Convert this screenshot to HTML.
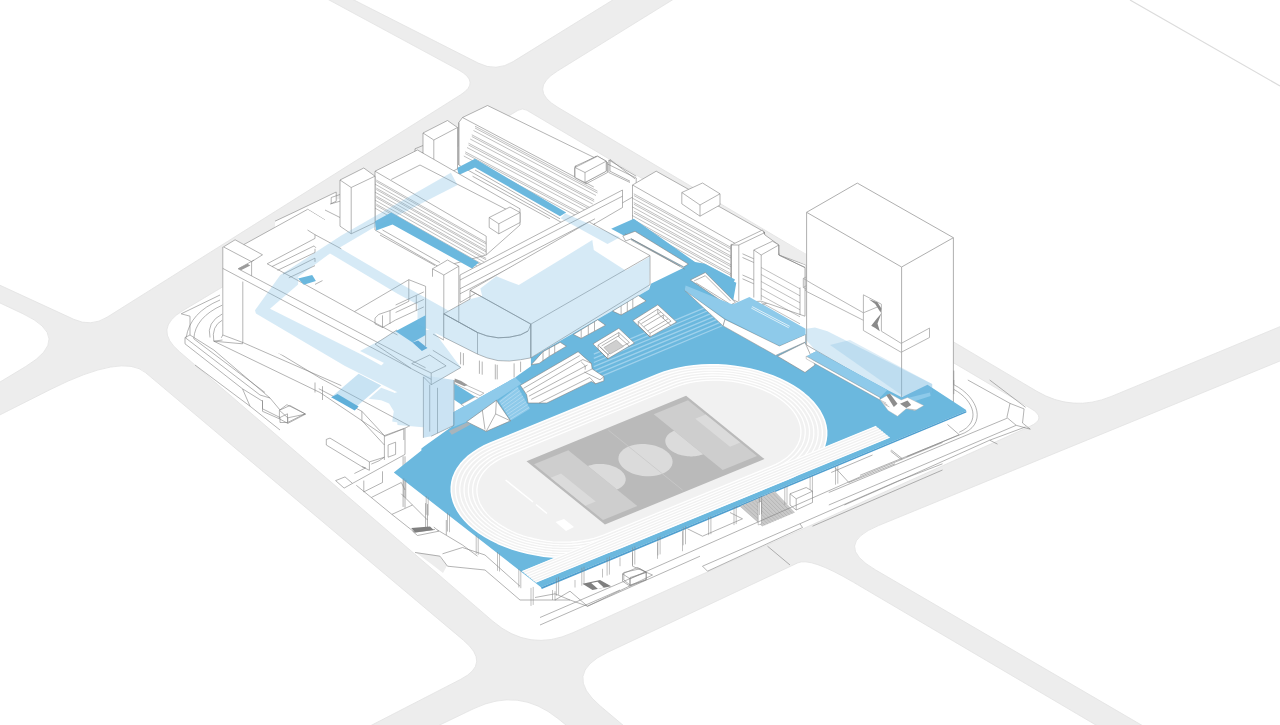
<!DOCTYPE html>
<html><head><meta charset="utf-8"><title>Axonometric</title>
<style>html,body{margin:0;padding:0;background:#fff;overflow:hidden}svg{display:block}</style></head>
<body><svg width="1280" height="725" viewBox="0 0 1280 725">
<rect x="0" y="0" width="1280" height="725" fill="#ededed"/>
<path d="M-100.0 -231.7 L458.0 69.6 Q480.9 82.0 460.6 94.8 L107.1 317.2 Q91.0 327.3 73.8 319.3 L-100.0 239.1 Z" fill="#fff" stroke="#e2e2e2" stroke-width="0.8"/>
<path d="M-100.0 256.0 L23.0 313.8 Q73.7 337.6 25.7 366.5 L-100.0 442.3 Z" fill="#fff" stroke="#e2e2e2" stroke-width="0.8"/>
<path d="M-100.0 465.2 L51.0 389.2 Q122.5 353.3 145.5 372.6 L463.6 640.4 Q491.1 663.6 460.9 679.2 L300.0 762.0 L-100.0 800.0 Z" fill="#fff" stroke="#e2e2e2" stroke-width="0.8"/>
<path d="M300.0 -27.4 L478.3 63.1 Q496.1 72.1 513.1 61.6 L700.0 -54.0 Z" fill="#fff" stroke="#e2e2e2" stroke-width="0.8"/>
<path d="M557.8 107.3 Q527.7 89.4 557.5 71.0 L800.0 -79.0 L1400.0 -79.0 L1400.0 277.0 L1111.4 396.4 Q1072.6 412.5 1036.5 391.1 Z" fill="#fff" stroke="#e2e2e2" stroke-width="0.8"/>
<path d="M875.4 569.8 Q832.2 544.6 878.5 525.6 L1400.0 311.8 L1400.0 800.0 L1270.0 800.0 Z" fill="#fff" stroke="#e2e2e2" stroke-width="0.8"/>
<path d="M600.3 706.0 Q562.1 673.8 607.3 652.5 L797.7 562.9 Q810.4 556.9 853.5 582.3 L1230.0 804.0 L700.0 790.0 Z" fill="#fff" stroke="#e2e2e2" stroke-width="0.8"/>
<path d="M473.9 708.6 Q519.0 687.0 557.9 718.5 L640.0 785.0 L320.0 782.5 Z" fill="#fff" stroke="#e2e2e2" stroke-width="0.8"/>
<path d="M179.3 351.5 Q152.8 328.7 182.8 310.7 L518.1 110.3 Q522.4 107.7 526.7 110.2 L1030.8 408.5 Q1047.6 418.4 1029.8 426.4 L572.9 632.7 Q529.2 652.5 492.8 621.2 Z" fill="#fff" stroke="#e2e2e2" stroke-width="0.8"/>
<path d="M1130 0 L1280 86" stroke="#dcdcdc" stroke-width="1.2" fill="none"/>
<g id="ground">
<path d="M415 552 L438.8 555.5 L447 565.8 L443 573 L430 563 Z" fill="#ededed"/>
<path d="M213.8 341.2 L320 392.5 L385 436.2 L403.8 428.8 L403.8 440 M222.5 325 L242.5 331.2 L320 378 L410 426.2 M242.5 331.2 L242.5 343.8 L213.8 341.2 L222.5 340" fill="none" stroke="#828282" stroke-width="0.6" stroke-linejoin="round"/>
<path d="M220.0 300.0 Q190.0 312.5 186.2 337.5 M222.5 305.0 Q195.0 317.5 193.8 338.8 M222.5 313.8 Q206.2 322.5 210.0 337.5 M222.5 320.0 Q211.2 326.2 213.8 341.2" fill="none" stroke="#828282" stroke-width="0.6"/>
<path d="M181.2 313.8 L190 316.2 L190 335 L185 337.5 M181.2 313.8 L220 295 M185 337.5 L185 343.8 L242.5 388.8 L262.5 401.2 L262.5 408.8 L280 417.5 L280 422.5 L287.5 422.5 L305 413.8 L290 405.5 L280 410 L270 398 L260 395 L185 337.5 M190 335 L213.8 350 L270 398 M193.8 338.8 L265 392.5 M280 417.5 L287.5 413.8 L287.5 422.5 M242.5 388.8 L250 406.2 L195 365 M250 406.2 L280 430" fill="none" stroke="#828282" stroke-width="0.6" stroke-linejoin="round"/>
<path d="M315 382.5 L315 392.5 M322.5 386.2 L322.5 400" fill="none" stroke="#828282" stroke-width="0.6" stroke-linejoin="round"/>
<path d="M326.3 439.4 L330 438.1 L369.4 461.9 L369.4 470.3 L361.9 466.6 L326.3 445 L326.3 439.4 M369.4 461.9 L384.4 457.2 L378.8 460.9 L371.3 464.1 M354.4 473.5 L365.6 467.9 L361.9 466.6 M262.5 400 L262.5 411.3 L279.4 418.8 L279.4 410.3 L286.9 404.7 L305.6 414.1 L287.8 423.4 L279.4 418.8 M287.8 423.4 L287.8 417.8 L279.4 410.3 M287.8 417.8 L305.6 414.1 M335.6 480.6 L345 476.9 L352.5 483.4 L344.1 488.1 L335.6 480.6 M352.5 483.4 L405 454.4 L405 428.1 L384.4 435.6 L384.4 460 M384.4 435.6 L361.9 411.3 L361.9 420.6 L384.4 445 M361.9 411.3 L318.8 388.7 M405 428.1 L408.8 426.3 M363.8 480.6 L363.8 491.9 L382.5 482.5 L382.5 471.3 M356.3 485.3 L371.3 497.5 L401.3 482.5 L405 490 M371.3 497.5 L391.9 514.4 L412.5 505 L401.3 493.8 M391.9 514.4 L414.4 532.2 L435 529.4 M403.1 456.3 L403.1 506.9 M405 456.3 L405 507.8 M425.6 503.1 L425.6 529.4 M427.5 504.1 L427.5 529.4 M388.1 445 L395.6 442.2 L395.6 454.4 L388.1 457.2 L388.1 445 M412.5 505 L427.5 520 M446.3 520 L446.3 535" fill="none" stroke="#828282" stroke-width="0.6" stroke-linejoin="round"/>
</g>
<g id="back">
<path d="M462.5 117.5 L487.5 105.5 L636.2 178 L636.2 195 L575 230 L458.8 165 L458.8 122.5 Z" fill="#fff" stroke="#828282" stroke-width="0.6" stroke-linejoin="round"/>
<path d="M475 126.2 L597.5 191.2 M475 128 L597.5 193 M473.5 130.5 L596 195.5 M471.8 134.8 L594.2 199.8 M471.8 136.5 L594.2 201.5 M470.2 139 L592.8 204 M468.5 143.2 L591 208.2 M468.5 145 L591 210 M467 147.5 L589.5 212.5 M465.2 151.8 L587.8 216.8 M465.2 153.5 L587.8 218.5 M463.8 156 L586.2 221" fill="none" stroke="#828282" stroke-width="0.5" stroke-linejoin="round"/>
<path d="M462.5 117.5 L593.8 187 M458.8 122.5 L458.8 165" fill="none" stroke="#828282" stroke-width="0.6" stroke-linejoin="round"/>
<path d="M457 168 L475 158.8 L566.2 212.5 L560 216.2 L475 167.5 L458.8 175 Z" fill="#6bb8de"/>
<path d="M475 170 L560 218.8 M472.5 176.2 L550 218.8" fill="none" stroke="#828282" stroke-width="0.6" stroke-linejoin="round"/>
<path d="M575 167.5 L596.2 156.2 L607.5 162.5 L607.5 172.5 L586.2 183.8 L575 177.5 Z" fill="#fff" stroke="#828282" stroke-width="0.6" stroke-linejoin="round"/>
<path d="M575 167.5 L586.2 173.8 L607.5 162.5 M586.2 173.8 L586.2 183.8" fill="none" stroke="#828282" stroke-width="0.6" stroke-linejoin="round"/>
<path d="M608.8 160 L608.8 172.5 L630 182.5 M608.8 160 L636.2 176.2" fill="none" stroke="#828282" stroke-width="0.6" stroke-linejoin="round"/>
<path d="M423 133 L447.5 120.5 L457.5 127.5 L457.5 168.8 L433.8 181.2 L423 174.2 Z" fill="#fff" stroke="#828282" stroke-width="0.6" stroke-linejoin="round"/>
<path d="M423 133 L433.8 140 L457.5 127.5 M433.8 140 L433.8 181.2" fill="none" stroke="#828282" stroke-width="0.6" stroke-linejoin="round"/>
<path d="M415 148.8 L423 145.5 M415 148.8 L415 155 L423 152.5" fill="none" stroke="#828282" stroke-width="0.6" stroke-linejoin="round"/>
<path d="M375 171.2 L417.5 150 L520 208.8 L520 225 L486.2 255 L440 267.5 L375 230 Z" fill="#fff" stroke="#828282" stroke-width="0.6" stroke-linejoin="round"/>
<path d="M375 171.2 L486.2 236.2 L486.2 255 M391.2 179.5 L420 165 L507.5 210 L490 218.8" fill="none" stroke="#828282" stroke-width="0.6" stroke-linejoin="round"/>
<path d="M376.2 180 L486.2 242.5 M376.2 181.5 L486.2 244 M374.8 184 L484.8 246.5 M376.2 188 L486.2 250.5 M376.2 189.5 L486.2 252 M374.8 192 L484.8 254.5 M376.2 196 L486.2 258.5 M376.2 197.5 L486.2 260 M374.8 200 L484.8 262.5 M376.2 204 L486.2 266.5 M376.2 205.5 L486.2 268 M374.8 208 L484.8 270.5" fill="none" stroke="#828282" stroke-width="0.5" stroke-linejoin="round"/>
<path d="M375 221.2 L391.2 212.5 L478.8 262.5 L472 268.5 L392.5 224.5 L376.2 230.5 Z" fill="#6bb8de"/>
<path d="M382.5 230 L440 262.5 M380 235 L435 265.5" fill="none" stroke="#828282" stroke-width="0.6" stroke-linejoin="round"/>
<path d="M489.2 217.5 L510 207 L520 212.5 L520 222.5 L498.8 233.8 L489.2 227.5 Z" fill="#fff" stroke="#828282" stroke-width="0.6" stroke-linejoin="round"/>
<path d="M489.2 217.5 L498.8 223.8 L520 212.5 M498.8 223.8 L498.8 233.8" fill="none" stroke="#828282" stroke-width="0.6" stroke-linejoin="round"/>
<path d="M275 221.2 L295 211.8 L336.2 192 L336.2 200 L341.2 198 L341.2 233.8 L307.5 233.8 L275 233.8 Z" fill="#fff"/>
<path d="M275 221.2 L295 211.8 L336.2 192 L336.2 201.2 L330 204.2 M307.5 209.2 L325 220 M325 210 L340 217.5" fill="none" stroke="#828282" stroke-width="0.6" stroke-linejoin="round"/>
<path d="M340 180 L363.8 168 L375 176.2 L375 222.5 L351.2 233.8 L340 226.2 Z" fill="#fff" stroke="#828282" stroke-width="0.6" stroke-linejoin="round"/>
<path d="M340 180 L351.2 187.5 L375 176.2 M351.2 187.5 L351.2 233.8" fill="none" stroke="#828282" stroke-width="0.6" stroke-linejoin="round"/>
<path d="M331.2 197.5 L340 194.5 M331.2 197.5 L331.2 203.8 L340 201.2" fill="none" stroke="#828282" stroke-width="0.6" stroke-linejoin="round"/>
<path d="M575 166.2 L597.5 156.2 L606.2 161.2 L606.2 171.2 L585 182.5 L575 176.2 Z" fill="#fff" stroke="#828282" stroke-width="0.6" stroke-linejoin="round"/>
<path d="M575 166.2 L585 172.5 L606.2 161.2 M585 172.5 L585 182.5" fill="none" stroke="#828282" stroke-width="0.6" stroke-linejoin="round"/>
<path d="M460 275 L622.5 190 L622.5 207.5 L460 302.5 Z" fill="#fff" stroke="#828282" stroke-width="0.6" stroke-linejoin="round"/>
<path d="M460 280 L622.5 196.2 M460 288.8 L595 218.8 M460 293.8 L595 223.8" fill="none" stroke="#828282" stroke-width="0.6" stroke-linejoin="round"/>
<path d="M432.5 268.8 L447.5 260 L458.8 266.2 L458.8 331.2 L443.8 340 L432.5 333.8 Z" fill="#fff" stroke="#828282" stroke-width="0.6" stroke-linejoin="round"/>
<path d="M432.5 268.8 L443.8 275 L458.8 266.2 M443.8 275 L443.8 340" fill="none" stroke="#828282" stroke-width="0.6" stroke-linejoin="round"/>
<path d="M632.5 185 L656.2 171.2 L764.5 232 L764.5 240 L778.8 245 L778.8 255 L806.2 265 L806.2 290 L761.2 305 L738.8 302.5 L731.2 296.2 L632.5 235 Z" fill="#fff" stroke="#828282" stroke-width="0.6" stroke-linejoin="round"/>
<path d="M633.8 193.8 L731.2 247.5 M633.8 195.5 L731.2 249.2 M632.2 198 L729.8 251.8 M633.8 202.5 L731.2 256.2 M633.8 204.2 L731.2 258 M632.2 206.8 L729.8 260.5 M633.8 211.2 L731.2 265 M633.8 213 L731.2 266.8 M632.2 215.5 L729.8 269.2 M633.8 220 L731.2 273.8 M633.8 221.8 L731.2 275.5 M632.2 224.2 L729.8 278 M633.8 228.8 L731.2 282.5 M633.8 230.5 L731.2 284.2 M632.2 233 L729.8 286.8" fill="none" stroke="#828282" stroke-width="0.5" stroke-linejoin="round"/>
<path d="M632.5 185 L738.8 245.5 L764.5 232 M738.8 245.5 L738.8 302.5 M731.2 243.8 L731.2 296.2 M764.5 232 L764.5 240" fill="none" stroke="#828282" stroke-width="0.6" stroke-linejoin="round"/>
<path d="M681.8 192.5 L702.5 183 L720 193.8 L720 205 L700 216.2 L681.8 203.8 Z" fill="#fff" stroke="#828282" stroke-width="0.6" stroke-linejoin="round"/>
<path d="M681.8 192.5 L700 205 L720 193.8 M700 205 L700 216.2" fill="none" stroke="#828282" stroke-width="0.6" stroke-linejoin="round"/>
<path d="M763.8 231.2 L806.2 253.8 L806.2 265 L778.8 252.5 L778.8 245 L772.5 241.2 Z" fill="#ededed"/>
<path d="M731.2 245 L762.5 230 L765 235 L778.8 245 L778.8 255 L805 267.5 L805 316.2 L761.2 301.2 L738.8 302.5 L731.2 298.8 Z" fill="#fff" stroke="#828282" stroke-width="0.6" stroke-linejoin="round"/>
<path d="M731.2 245 L738.8 245 L738.8 301.2 M731.2 245 L731.2 298.8 M738.8 245 L765 232.5" fill="none" stroke="#828282" stroke-width="0.6" stroke-linejoin="round"/>
<path d="M753.8 250 L772.5 241.2 L778.8 245 L761.2 255 Z" fill="#fff" stroke="#828282" stroke-width="0.6" stroke-linejoin="round"/>
<path d="M753.8 250 L753.8 297.5 M761.2 255 L761.2 300 M778.8 245 L778.8 255 M742.5 253.8 L753.8 258.8 M742.5 257.5 L753.8 262.5 M742.5 275 L753.8 280 M742.5 278.8 L753.8 283.8 M800 287.5 L800 315 M778.8 255 L805 267.5" fill="none" stroke="#828282" stroke-width="0.6" stroke-linejoin="round"/>
<path d="M761.2 267.5 L800 288.8 M761.2 274.5 L800 295.8 M761.2 281.5 L800 302.8 M761.2 288.5 L800 309.8 M761.2 295.5 L800 316.8 M761.2 302.5 L800 323.8" fill="none" stroke="#828282" stroke-width="0.5" stroke-linejoin="round"/>
<path d="M575 167.5 L597.5 156.2 L606.2 161.2 L606.2 171.2 L585 182.5 L575 177.5 Z" fill="#fff" stroke="#828282" stroke-width="0.6" stroke-linejoin="round"/>
<path d="M575 167.5 L585 172.5 L606.2 161.2 M585 172.5 L585 182.5" fill="none" stroke="#828282" stroke-width="0.6" stroke-linejoin="round"/>
<path d="M610 159.5 L610 171.2 L630 181.2 M610 159.5 L635 178.8" fill="none" stroke="#828282" stroke-width="0.6" stroke-linejoin="round"/>
<path d="M611.2 228.8 L633.8 218.8 L695 262 L705 263.8 L735 279.5 L732.5 284.5 L696.2 267 L688.8 270.5 Z" fill="#6bb8de"/>
<path d="M625 233.8 L642.5 243.8 L685 266.2 M631.2 240 L680 266.2" fill="none" stroke="#828282" stroke-width="0.6" stroke-linejoin="round"/>
<path d="M222.8 246.9 L235.1 239.8 L243.8 244.6 L307.5 209.4 L341.3 230 L433.1 276.9 L433.1 350 L399.4 365 L341.3 372.5 L242.8 342.5 L222.2 335 Z" fill="#fff"/>
<path d="M223.5 246.9 L235.1 239.8 L262.5 254.8 L251.6 261.7 Z" fill="#fff" stroke="#828282" stroke-width="0.6" stroke-linejoin="round"/>
<path d="M222.8 246.9 L222.8 335 L242.8 342.5 L242.8 281.6 M251.6 261.7 L251.6 275.9 M222.8 268.4 L431.3 379.3 M238.1 268.8 L254.1 260 M238.1 268.8 L425.6 367.8 M222.8 335 L221.3 337.8 M242.8 342.5 L341.3 385.6" fill="none" stroke="#828282" stroke-width="0.6" stroke-linejoin="round"/>
<path d="M238.1 268.4 L247.5 263.8 L250.3 265.6 L240.9 270.3 Z" fill="#9b9b9b"/>
<path d="M243.8 244.6 L307.5 209.4 M267.2 263.8 L315 238.4 L315 234.7 L307.5 230 M271.9 266.6 L314.1 245.9 L315.9 247.8 M277.5 270.3 L315 252.5 L315 248.8 M283.1 274.1 L315 258.1 L315 261.9 M288.8 277.8 L315 265.6 M267.2 263.8 L298.1 280.6 M315 234.7 L341.3 248.8" fill="none" stroke="#828282" stroke-width="0.6" stroke-linejoin="round"/>
<path d="M298.1 280.6 L354.4 311.6 L408.8 279.7 L425.6 286.3 M354.4 311.6 L397.5 335 M315 284.4 L322.5 280.6 M408.8 279.7 L408.8 291.9 M425.6 286.3 L425.6 346.3" fill="none" stroke="#828282" stroke-width="0.6" stroke-linejoin="round"/>
<path d="M375 318.1 L378.8 314.4 L390 310.6 L408.8 301.3 L408.8 291.9 M375 318.1 L375 323.8 L382.5 327.5 L395.6 320 M382.5 315.3 L382.5 327.5 M390 310.6 L390 323.8 M395.6 305 L423.8 291.9 M395.6 312.5 L423.8 299.4 M395.6 320 L423.8 306.9 M416.3 295.6 L416.3 310.6" fill="none" stroke="#828282" stroke-width="0.6" stroke-linejoin="round"/>
<path d="M395.6 331.3 L425.6 315.3 L425.6 335 L412.5 342.5 Z" fill="#6bb8de"/>
<path d="M412.5 342.5 L418.1 340.6 L427.5 348.1 L421.9 350.9 Z" fill="#58a6d4"/>
<path d="M806.6 212.3 L857.3 183.1 L953.4 237.7 L953.4 402 L901.6 400 L806.6 345 Z" fill="#fff" stroke="#a6a6a6" stroke-width="0.9" stroke-linejoin="round"/>
<path d="M806.6 212.3 L901.6 267 L953.4 237.7" fill="none" stroke="#a6a6a6" stroke-width="0.9" stroke-linejoin="round"/>
<path d="M901.6 267 L901.6 400" fill="none" stroke="#a6a6a6" stroke-width="0.9" stroke-linejoin="round"/>
<path d="M803.3 278.4 L803.3 287.5 L806.4 289.1 M803.3 278.4 L806.4 276.9 M803.3 278.4 L811.9 283.6 L863.4 312.8 M803.3 287.5 L806.4 285.6 M806.4 291.4 L863.4 320.3 M863.4 294.8 L863.4 330.5 M863.4 294.8 L881.4 304.2 L881.4 331.2 M863.4 312.8 L878.3 306.6 M881.4 331.2 L901.2 343.4 L929.5 328.1 L929.5 337.5 L901.2 352.3 L863.4 330.5" fill="none" stroke="#a6a6a6" stroke-width="0.8" stroke-linejoin="round"/>
<path d="M868.9 299.2 L877.5 302.3 L881.4 308.6 L880.6 312.5 L875.2 303.9 Z" fill="#8a8a8a"/>
<path d="M881.4 313.3 L877.5 323.4 L879.8 331.2 L875.2 328.1 L871.2 325.8 L876.7 318.8 Z" fill="#8a8a8a"/>
</g>
<g id="plat">
<path d="M393.8 472.5 L421.4 450.6 L421.4 448.6 L424 446.4 L453.4 425.6 L453.4 412.3 L515.3 377.5 L530.9 357.8 L649.1 289.4 L650.9 283.8 L689.4 265 L692.2 263.1 L736.3 282.8 L732.5 304.4 L805.6 334.4 L806.2 356.2 L816.2 351.2 L887.5 390 L901.7 397.2 L927.5 384.7 L965.8 409.7 L966.3 411 L541 587.3 Z" fill="#6bb8de"/>
<path d="M541 587.3 L966.3 411 L966.3 412.6 L541.8 589 Z" fill="#4f9fcf"/>
</g>
<g id="onplat">
<path d="M593.8 354.1 L703.9 308.1" stroke="#9fd1ec" stroke-width="1.3" fill="none"/>
<path d="M593.8 358.3 L707.0 311.0" stroke="#9fd1ec" stroke-width="1.3" fill="none"/>
<path d="M593.8 362.5 L710.1 313.9" stroke="#9fd1ec" stroke-width="1.3" fill="none"/>
<path d="M593.8 366.7 L713.3 316.8" stroke="#9fd1ec" stroke-width="1.3" fill="none"/>
<path d="M593.8 370.9 L716.4 319.7" stroke="#9fd1ec" stroke-width="1.3" fill="none"/>
<path d="M593.8 375.2 L719.5 322.6" stroke="#9fd1ec" stroke-width="1.3" fill="none"/>
<path d="M593.8 379.4 L722.7 325.5" stroke="#9fd1ec" stroke-width="1.3" fill="none"/>
<path d="M531.2 364.7 L543 351.7 L560.2 342.3 L566.4 346.2 L549.2 356.4 L539.1 363.4 Z" fill="#fff" stroke="#828282" stroke-width="0.6" stroke-linejoin="round"/>
<path d="M543 351.7 L543 361.1 M549.2 348.1 L549.2 356.4 M554.7 345 L554.7 353.3" fill="none" stroke="#828282" stroke-width="0.6" stroke-linejoin="round"/>
<path d="M573.4 334.5 L597.7 319.7 L605.5 325.2 L581.2 338.4 Z" fill="#fff" stroke="#828282" stroke-width="0.6" stroke-linejoin="round"/>
<path d="M581.2 329.8 L581.2 338.4 M588.3 325.6 L588.3 334.5 M594.5 321.7 L594.5 330.9" fill="none" stroke="#828282" stroke-width="0.6" stroke-linejoin="round"/>
<path d="M612.5 311.1 L638.3 295.5 L646.1 300.9 L621.1 315 Z" fill="#fff" stroke="#828282" stroke-width="0.6" stroke-linejoin="round"/>
<path d="M621.1 306.1 L621.1 315 M627.3 302.2 L627.3 311.4 M632.8 298.9 L632.8 308.1" fill="none" stroke="#828282" stroke-width="0.6" stroke-linejoin="round"/>
<path d="M593 343.9 L618.8 328.3 L634.4 343.1 L607.8 358.8 Z" fill="#fff" stroke="#828282" stroke-width="0.6" stroke-linejoin="round"/>
<path d="M598.1 345 L618.8 332.5 L629.4 342.5 L607.8 354.4 Z" fill="#fff" stroke="#828282" stroke-width="0.6" stroke-linejoin="round"/>
<path d="M603.9 347.5 L616.4 340 L623.4 346.6 L610.2 354.1 Z" fill="#cfcfcf" stroke="#828282" stroke-width="0.4" stroke-linejoin="round"/>
<path d="M598.1 345 L598.1 349.4 L607.8 358.8 M618.8 332.5 L618.8 336.9 L629.4 346.2 M607.8 354.4 L607.8 358.8 M600 347 L609.4 355.6 M601.6 345.9 L619.5 335.3" fill="none" stroke="#828282" stroke-width="0.6" stroke-linejoin="round"/>
<path d="M632.8 320.5 L657.8 304.8 L676.6 322 L650 336.9 Z" fill="#fff" stroke="#828282" stroke-width="0.6" stroke-linejoin="round"/>
<path d="M638.3 321.6 L657.8 309.1 L671.1 321.2 L650 333.3 Z" fill="#fff" stroke="#828282" stroke-width="0.6" stroke-linejoin="round"/>
<path d="M638.3 321.6 L638.3 325.6 L650 336.9 M657.8 309.1 L657.8 313.4 L671.1 325.6 M650 333.3 L650 336.9 M641.4 323.6 L660.9 311.9 M643.8 326.7 L663.3 315 L663.3 318.9 M647.7 330.9 L668 318.9" fill="none" stroke="#828282" stroke-width="0.6" stroke-linejoin="round"/>
<path d="M520.3 385.3 L578.1 351.7 L591.4 363.4 L592.2 368.9 L603.9 376.7 L603.9 380.9 L595.6 383.8 L591.4 381.4 L546.9 403 L528.1 403 L526.6 394.7 Z" fill="#fff" stroke="#828282" stroke-width="0.6" stroke-linejoin="round"/>
<path d="M523.4 388.4 L579.7 355.6 M526.6 392.3 L582.8 359.5 L591.4 363.4 M528.9 396.2 L587.5 365 M531.2 399.4 L592.2 368.9 M539.1 403 L589.8 377.5 L595.6 383.8 M584.4 372 L600 379.8 L603.9 376.7 M581.2 361.9 L585.2 365.8 L585.2 369.7" fill="none" stroke="#828282" stroke-width="0.6" stroke-linejoin="round"/>
<path d="M443.8 337.2 L443.8 362.5 L462.5 371.9 L496.3 379.4 L515 377.5 L530.9 366.3 L530.9 357.8 Z" fill="#fff"/>
<path d="M460.6 352.2 L460.6 364.4 M463.4 353.1 L463.4 365.3 M479.4 360.6 L479.4 373.8 M482.2 361.6 L482.2 374.7 M495.3 364.4 L495.3 379.4 M497.2 364.8 L497.2 379.4 M514.1 363.4 L514.1 377.5 M520.6 361.6 L520.6 371.9" fill="none" stroke="#828282" stroke-width="0.6" stroke-linejoin="round"/>
<path d="M443.8 313.8 L477.5 332.5 L486.9 335.9 L498.1 337.8 L509.4 337.2 L520.6 334.8 L528.1 331 L530.9 324.1 L530.9 357.8 L530.9 357.8 L520.6 359.7 L509.4 361 L498.1 360.6 L486.9 357.8 L477.5 354.1 L443.8 337.2 Z" fill="#fff" stroke="#828282" stroke-width="0.6" stroke-linejoin="round"/>
<path d="M470 290.3 L589.1 221.9 L650 255.6 L650 284.7 L530.9 357.8 L530.9 324.1 Z" fill="#fff" stroke="#828282" stroke-width="0.6" stroke-linejoin="round"/>
<path d="M470 290.3 L530.9 324.1 L650 255.6 M530.9 324.1 L530.9 357.8 M443.8 313.8 L477.5 332.5 M477.5 332.5 L477.5 354.1" fill="none" stroke="#828282" stroke-width="0.6" stroke-linejoin="round"/>
<path d="M443.8 313.8 L477.5 332.5 L486.9 335.9 L498.1 337.8 L509.4 337.2 L520.6 334.8 L528.1 331" fill="none" stroke="#828282" stroke-width="0.6" stroke-linejoin="round"/>
<path d="M443.8 313.8 L470 299.1 M470 290.3 L470 299.1" fill="none" stroke="#828282" stroke-width="0.6" stroke-linejoin="round"/>
<path d="M454.2 383.4 L475.3 396.7 L461.2 404.5 L454.2 399.8 Z" fill="#6bb8de"/>
<path d="M455 380 L483.9 393.1 L480 395.6 L454.2 383.4 Z" fill="#fff" stroke="#828282" stroke-width="0.5" stroke-linejoin="round"/>
<path d="M461.2 404.5 L475.3 396.7 L480 399.1 L465.2 406.9 Z" fill="#fff" stroke="#828282" stroke-width="0.5" stroke-linejoin="round"/>
<path d="M454.7 378.4 L461.2 381.1 L467.5 385 L464.4 386.2 L454.7 381.9 Z" fill="#9a9a9a"/>
<path d="M453.4 412.3 L515.3 377.5 L521.4 383.4 L517.5 386.2 L496.4 400.3 L466.7 421.7 L453.4 426.9 Z" fill="#8ecaea"/>
<path d="M498.8 400.9 L517.5 386.6 L530 408.8 L510.9 420.6 Z" fill="#8ecaea"/>
<path d="M499.5 402.1 L518.2 387.9" stroke="#b5dcf1" stroke-width="0.8" fill="none"/>
<path d="M501.0 404.6 L519.8 390.7" stroke="#b5dcf1" stroke-width="0.8" fill="none"/>
<path d="M502.5 407.0 L521.4 393.4" stroke="#b5dcf1" stroke-width="0.8" fill="none"/>
<path d="M504.1 409.5 L522.9 396.2" stroke="#b5dcf1" stroke-width="0.8" fill="none"/>
<path d="M505.6 412.0 L524.5 399.0" stroke="#b5dcf1" stroke-width="0.8" fill="none"/>
<path d="M507.1 414.4 L526.1 401.8" stroke="#b5dcf1" stroke-width="0.8" fill="none"/>
<path d="M508.6 416.9 L527.6 404.5" stroke="#b5dcf1" stroke-width="0.8" fill="none"/>
<path d="M510.1 419.3 L529.2 407.3" stroke="#b5dcf1" stroke-width="0.8" fill="none"/>
<path d="M466.7 421.7 L496.4 400.3 L510.5 420.9 L486.2 431.4 Z" fill="#fff" stroke="#828282" stroke-width="0.6" stroke-linejoin="round"/>
<path d="M496.4 400.3 L495.6 413.9 L510.5 420.9 M495.6 413.9 L486.2 431.4 M482.3 410 L485 429.5" fill="none" stroke="#828282" stroke-width="0.6" stroke-linejoin="round"/>
<path d="M448.8 431.1 L467.5 422.2 L470.6 424.4 L451.9 434.7 Z" fill="#a8b4bb"/>
<path d="M690.3 280 L705.3 272.5 L735.3 302.5 L728.8 305.9 Z" fill="#fff" stroke="#828282" stroke-width="0.6" stroke-linejoin="round"/>
<path d="M694.1 280.9 L705.3 275.7 L730.6 301 M695.9 282.8 L728.8 303.4" fill="none" stroke="#828282" stroke-width="0.6" stroke-linejoin="round"/>
<path d="M622.8 235.9 L635 231.3 L688.4 264.1 L683.8 266.9 L631.3 238.8 L625.6 241 Z" fill="#fff" stroke="#828282" stroke-width="0.6" stroke-linejoin="round"/>
<path d="M631.3 238.8 L684.7 269.1" fill="none" stroke="#828282" stroke-width="0.6" stroke-linejoin="round"/>
<path d="M684.7 290.3 L723.1 325.9 L725 319.4 Z" fill="#fff" stroke="#828282" stroke-width="0.5" stroke-linejoin="round"/>
<path d="M725 319.4 L779.4 346 L805.6 334.4 L805.6 341.9 L775.6 355.4 L723.1 325.9 Z" fill="#fff" stroke="#828282" stroke-width="0.5" stroke-linejoin="round"/>
<path d="M685.6 285.6 L732.5 304.4 L749.4 296.9 L805.6 328.8 L805.6 334.4 L779.4 345.6 L725 318.4 L684.7 290.3 Z" fill="#8ecaea"/>
<path d="M751.3 308.1 L788.8 327.8 M752.2 306.6 L789.7 326.3" fill="none" stroke="#fff" stroke-width="0.7" stroke-linejoin="round"/>
<path d="M777.5 356.2 L805 342.5 L815 365 L805 372.5 Z" fill="#fff" stroke="#828282" stroke-width="0.6" stroke-linejoin="round"/>
<path d="M806.2 356.2 L816.2 351.2 L887.5 390 L880 397.5 Z" fill="#8ecaea"/>
<path d="M806.2 356.2 L880 397.5 L880 400 L806.2 358.8 Z" fill="#fff" stroke="#828282" stroke-width="0.4" stroke-linejoin="round"/>
<path d="M423.4 376.9 L423.4 437.8 M429.7 384.7 L429.7 431.6 M437.5 387.8 L437.5 433.1 M453.9 380 L453.9 425.3 M411.7 363.6 L429.7 355 L446.1 365.9 L431.2 373 L411.7 363.6 M423.4 376.9 L431.2 384.7 L460.9 367.5 L432.8 350.3 M431.2 384.7 L431.2 373 M396.9 330 L375 344.1 L410.9 368.3 M453.9 425.3 L431.2 436.2" fill="none" stroke="#828282" stroke-width="0.6" stroke-linejoin="round"/>
</g>
<g id="track">
<path d="M657.6 374.6 L664.2 372.1 L671.2 370 L678.4 368.2 L686 366.8 L693.8 365.8 L701.7 365.1 L709.8 364.8 L717.9 364.9 L726.1 365.4 L734.3 366.3 L742.3 367.5 L750.3 369.1 L758.1 371.1 L765.7 373.4 L773 376 L780 379 L786.6 382.2 L792.9 385.7 L798.7 389.5 L804 393.5 L808.9 397.7 L813.2 402.1 L816.9 406.7 L820.1 411.3 L822.6 416.1 L824.6 420.9 L825.9 425.8 L826.6 430.7 L826.6 435.5 L826 440.3 L824.8 445.1 L822.9 449.7 L820.4 454.1 L817.3 458.4 L813.6 462.5 L809.4 466.4 L804.6 470.1 L799.3 473.4 L793.6 476.5 L787.4 479.3 L620.3 547.8 L613.7 550.2 L606.7 552.4 L599.4 554.1 L591.9 555.5 L584.1 556.6 L576.2 557.2 L568.1 557.5 L560 557.4 L551.8 556.9 L543.6 556.1 L535.5 554.8 L527.6 553.2 L519.8 551.3 L512.2 549 L504.9 546.3 L497.9 543.4 L491.3 540.1 L485 536.6 L479.2 532.8 L473.9 528.8 L469 524.6 L464.7 520.2 L461 515.7 L457.8 511 L455.2 506.2 L453.3 501.4 L452 496.5 L451.3 491.6 L451.3 486.8 L451.9 482 L453.1 477.3 L455 472.7 L457.5 468.2 L460.6 463.9 L464.3 459.8 L468.5 455.9 L473.3 452.3 L478.6 448.9 L484.3 445.8 L490.5 443 Z" fill="#f1f1f1" stroke="#fff" stroke-width="1.6" stroke-linejoin="round"/>
<path d="M660.3 376.7 L666.6 374.3 L673.3 372.3 L680.2 370.6 L687.5 369.3 L694.9 368.3 L702.6 367.6 L710.3 367.4 L718.1 367.5 L726 367.9 L733.8 368.8 L741.5 370 L749.2 371.5 L756.6 373.4 L763.9 375.6 L770.9 378.1 L777.6 380.9 L784 384.1 L790 387.4 L795.5 391.1 L800.7 394.9 L805.3 398.9 L809.4 403.1 L813 407.5 L816.1 412 L818.5 416.6 L820.4 421.2 L821.7 425.9 L822.3 430.5 L822.3 435.2 L821.8 439.8 L820.6 444.3 L818.8 448.7 L816.4 453 L813.4 457.1 L809.9 461.1 L805.8 464.8 L801.2 468.3 L796.2 471.5 L790.6 474.5 L784.7 477.2 L617.6 545.6 L611.3 548 L604.6 550 L597.6 551.7 L590.4 553.1 L582.9 554.1 L575.3 554.7 L567.6 555 L559.8 554.9 L551.9 554.4 L544.1 553.6 L536.3 552.4 L528.7 550.8 L521.2 549 L514 546.8 L507 544.2 L500.3 541.4 L493.9 538.3 L487.9 534.9 L482.3 531.3 L477.2 527.4 L472.6 523.4 L468.4 519.2 L464.9 514.8 L461.8 510.3 L459.4 505.8 L457.5 501.1 L456.2 496.5 L455.6 491.8 L455.5 487.1 L456.1 482.5 L457.3 478 L459.1 473.6 L461.5 469.3 L464.5 465.2 L468 461.3 L472.1 457.5 L476.6 454 L481.7 450.8 L487.2 447.8 L493.2 445.2 Z" fill="none" stroke="#fff" stroke-width="1.3" stroke-linejoin="round"/>
<path d="M662.9 378.9 L669 376.6 L675.4 374.6 L682.1 373 L689 371.7 L696.1 370.8 L703.4 370.2 L710.8 369.9 L718.3 370 L725.8 370.5 L733.3 371.3 L740.7 372.4 L748 373.9 L755.2 375.7 L762.1 377.8 L768.8 380.2 L775.3 382.9 L781.3 385.9 L787.1 389.1 L792.4 392.6 L797.3 396.3 L801.8 400.1 L805.7 404.2 L809.1 408.3 L812.1 412.6 L814.4 417 L816.2 421.4 L817.4 425.9 L818 430.4 L818.1 434.8 L817.5 439.2 L816.4 443.6 L814.6 447.8 L812.4 451.9 L809.5 455.8 L806.1 459.6 L802.2 463.2 L797.9 466.5 L793 469.6 L787.7 472.5 L782 475 L614.9 543.5 L608.9 545.7 L602.5 547.7 L595.8 549.3 L588.9 550.6 L581.8 551.6 L574.5 552.2 L567.1 552.4 L559.6 552.3 L552.1 551.9 L544.6 551.1 L537.2 549.9 L529.9 548.5 L522.7 546.7 L515.8 544.6 L509 542.1 L502.6 539.4 L496.5 536.4 L490.8 533.2 L485.5 529.7 L480.6 526.1 L476.1 522.2 L472.2 518.2 L468.7 514 L465.8 509.7 L463.5 505.3 L461.7 500.9 L460.5 496.4 L459.9 492 L459.8 487.5 L460.4 483.1 L461.5 478.8 L463.2 474.5 L465.5 470.4 L468.4 466.5 L471.7 462.7 L475.6 459.2 L480 455.8 L484.9 452.7 L490.2 449.9 L495.8 447.3 Z" fill="none" stroke="#fff" stroke-width="1.3" stroke-linejoin="round"/>
<path d="M665.6 381 L671.4 378.9 L677.5 377 L683.9 375.4 L690.5 374.2 L697.3 373.3 L704.3 372.7 L711.3 372.5 L718.5 372.6 L725.7 373 L732.8 373.7 L739.9 374.8 L746.9 376.2 L753.7 378 L760.4 380 L766.8 382.3 L772.9 384.9 L778.7 387.7 L784.2 390.8 L789.3 394.1 L794 397.6 L798.2 401.3 L802 405.2 L805.3 409.2 L808 413.3 L810.3 417.4 L812 421.7 L813.2 426 L813.7 430.2 L813.8 434.5 L813.3 438.7 L812.2 442.8 L810.5 446.9 L808.3 450.8 L805.6 454.6 L802.4 458.2 L798.7 461.6 L794.5 464.7 L789.9 467.7 L784.8 470.4 L779.4 472.9 L612.3 541.3 L606.5 543.5 L600.4 545.3 L594 546.9 L587.4 548.1 L580.6 549 L573.6 549.6 L566.5 549.9 L559.4 549.8 L552.2 549.3 L545.1 548.6 L538 547.5 L531 546.1 L524.2 544.4 L517.5 542.4 L511.1 540 L505 537.5 L499.2 534.6 L493.7 531.5 L488.6 528.2 L483.9 524.7 L479.7 521 L475.9 517.1 L472.6 513.2 L469.8 509.1 L467.6 504.9 L465.9 500.7 L464.7 496.4 L464.1 492.1 L464.1 487.9 L464.6 483.6 L465.7 479.5 L467.4 475.5 L469.5 471.6 L472.3 467.8 L475.5 464.2 L479.2 460.8 L483.4 457.6 L488 454.6 L493.1 451.9 L498.5 449.5 Z" fill="none" stroke="#fff" stroke-width="1.3" stroke-linejoin="round"/>
<path d="M668.3 383.2 L673.8 381.1 L679.6 379.3 L685.7 377.9 L692 376.7 L698.5 375.8 L705.1 375.3 L711.9 375 L718.7 375.1 L725.5 375.5 L732.3 376.2 L739.1 377.3 L745.7 378.6 L752.3 380.3 L758.6 382.2 L764.7 384.4 L770.5 386.9 L776.1 389.6 L781.3 392.5 L786.2 395.7 L790.6 399 L794.7 402.5 L798.3 406.2 L801.4 410 L804 413.9 L806.2 417.9 L807.8 421.9 L808.9 426 L809.5 430.1 L809.5 434.1 L809 438.1 L808 442.1 L806.4 445.9 L804.3 449.7 L801.7 453.3 L798.6 456.7 L795.1 459.9 L791.1 463 L786.7 465.8 L781.9 468.4 L776.7 470.7 L609.6 539.2 L604.1 541.2 L598.3 543 L592.2 544.5 L585.9 545.7 L579.4 546.5 L572.8 547.1 L566 547.3 L559.2 547.2 L552.4 546.8 L545.6 546.1 L538.8 545.1 L532.1 543.7 L525.6 542.1 L519.3 540.2 L513.2 537.9 L507.4 535.5 L501.8 532.8 L496.6 529.8 L491.7 526.7 L487.3 523.3 L483.2 519.8 L479.6 516.1 L476.5 512.3 L473.8 508.4 L471.7 504.4 L470.1 500.4 L469 496.3 L468.4 492.3 L468.4 488.2 L468.9 484.2 L469.9 480.3 L471.5 476.4 L473.6 472.7 L476.2 469.1 L479.2 465.6 L482.8 462.4 L486.8 459.4 L491.2 456.5 L496 454 L501.2 451.6 Z" fill="none" stroke="#fff" stroke-width="1.3" stroke-linejoin="round"/>
<path d="M670.9 385.3 L676.2 383.4 L681.7 381.7 L687.5 380.3 L693.5 379.1 L699.7 378.3 L706 377.8 L712.4 377.6 L718.9 377.7 L725.4 378 L731.8 378.7 L738.3 379.7 L744.6 381 L750.8 382.6 L756.8 384.4 L762.6 386.5 L768.2 388.8 L773.4 391.4 L778.4 394.2 L783 397.2 L787.3 400.4 L791.1 403.7 L794.5 407.2 L797.5 410.8 L800 414.5 L802.1 418.3 L803.6 422.2 L804.7 426 L805.2 429.9 L805.2 433.8 L804.7 437.6 L803.8 441.3 L802.3 445 L800.3 448.5 L797.8 452 L794.9 455.2 L791.5 458.3 L787.7 461.2 L783.5 463.9 L779 466.3 L774 468.6 L606.9 537 L601.7 539 L596.2 540.7 L590.4 542.1 L584.4 543.2 L578.2 544 L571.9 544.5 L565.5 544.8 L559 544.7 L552.5 544.3 L546 543.6 L539.6 542.6 L533.3 541.3 L527.1 539.8 L521.1 538 L515.3 535.9 L509.7 533.5 L504.4 530.9 L499.5 528.1 L494.9 525.1 L490.6 521.9 L486.8 518.6 L483.3 515.1 L480.4 511.5 L477.9 507.8 L475.8 504 L474.3 500.2 L473.2 496.3 L472.7 492.4 L472.7 488.6 L473.1 484.7 L474.1 481 L475.6 477.3 L477.6 473.8 L480.1 470.4 L483 467.1 L486.3 464 L490.1 461.1 L494.3 458.4 L498.9 456 L503.8 453.8 Z" fill="none" stroke="#fff" stroke-width="1.3" stroke-linejoin="round"/>
<path d="M673.6 387.5 L678.6 385.6 L683.8 384 L689.3 382.7 L695 381.6 L700.8 380.8 L706.8 380.3 L712.9 380.1 L719.1 380.2 L725.2 380.6 L731.4 381.2 L737.5 382.2 L743.5 383.4 L749.3 384.8 L755 386.6 L760.5 388.6 L765.8 390.8 L770.8 393.2 L775.5 395.9 L779.9 398.7 L783.9 401.8 L787.6 404.9 L790.8 408.2 L793.6 411.7 L796 415.2 L797.9 418.8 L799.4 422.4 L800.4 426.1 L800.9 429.8 L800.9 433.4 L800.5 437 L799.6 440.6 L798.1 444.1 L796.3 447.4 L793.9 450.7 L791.2 453.8 L788 456.7 L784.4 459.4 L780.4 462 L776 464.3 L771.4 466.4 L604.3 534.9 L599.3 536.7 L594.1 538.3 L588.6 539.7 L582.9 540.7 L577 541.5 L571.1 542 L565 542.2 L558.8 542.1 L552.7 541.8 L546.5 541.1 L540.4 540.2 L534.4 539 L528.6 537.5 L522.9 535.8 L517.3 533.8 L512.1 531.5 L507.1 529.1 L502.4 526.4 L498 523.6 L494 520.6 L490.3 517.4 L487.1 514.1 L484.2 510.7 L481.9 507.1 L479.9 503.6 L478.5 499.9 L477.5 496.2 L477 492.6 L476.9 488.9 L477.4 485.3 L478.3 481.7 L479.7 478.3 L481.6 474.9 L483.9 471.7 L486.7 468.6 L489.9 465.6 L493.5 462.9 L497.5 460.4 L501.8 458 L506.5 455.9 Z" fill="none" stroke="#fff" stroke-width="1.3" stroke-linejoin="round"/>
<path d="M526.5 461.2 L686.1 395.8 L764.5 459.1 L604.9 524.5 Z" fill="#bababa"/>
<path d="M534 464.3 L568.3 450.3 L637.3 506 L603 520 Z" fill="#cecece"/>
<path d="M653.7 414.3 L688 400.3 L757 456 L722.7 470 Z" fill="#cecece"/>
<path d="M550.7 477.8 L561 473.5 L595.7 501.5 L585.3 505.8 Z" fill="#dbdbdb"/>
<path d="M695.3 418.8 L705.7 414.5 L740.3 442.5 L730 446.8 Z" fill="#dbdbdb"/>
<path d="M587.9 466.1 L589.1 465.6 L590.4 465.2 L591.7 464.9 L593.1 464.6 L594.5 464.3 L596 464.1 L597.5 464 L599 463.9 L600.5 463.9 L602 464 L603.5 464.1 L605 464.2 L606.5 464.5 L608 464.8 L609.5 465.1 L610.9 465.5 L612.3 465.9 L613.7 466.4 L615 467 L616.3 467.6 L617.5 468.2 L618.6 468.9 L619.6 469.6 L620.6 470.3 L621.5 471.1 L622.4 471.9 L623.1 472.8 L623.8 473.6 L624.3 474.5 L624.8 475.4 L625.2 476.3 L625.4 477.2 L625.6 478.1 L625.7 479 L625.7 479.9 L625.6 480.8 L625.3 481.7 L625 482.6 L624.6 483.4 L624.1 484.2 L623.5 485 L622.8 485.8 L622 486.5 L621.1 487.2 L620.2 487.8 L619.2 488.4 L618.1 489 L616.9 489.5 Z" fill="#dbdbdb"/>
<path d="M703.1 454.2 L701.9 454.7 L700.6 455.1 L699.3 455.4 L697.9 455.7 L696.5 456 L695 456.2 L693.5 456.3 L692 456.4 L690.5 456.4 L689 456.3 L687.5 456.2 L686 456.1 L684.5 455.8 L683 455.5 L681.5 455.2 L680.1 454.8 L678.7 454.4 L677.3 453.9 L676 453.3 L674.7 452.7 L673.5 452.1 L672.4 451.4 L671.4 450.7 L670.4 450 L669.5 449.2 L668.6 448.4 L667.9 447.5 L667.2 446.7 L666.7 445.8 L666.2 444.9 L665.8 444 L665.6 443.1 L665.4 442.2 L665.3 441.3 L665.3 440.4 L665.4 439.5 L665.7 438.6 L666 437.7 L666.4 436.9 L666.9 436.1 L667.5 435.3 L668.2 434.5 L669 433.8 L669.9 433.1 L670.8 432.5 L671.8 431.9 L672.9 431.3 L674.1 430.8 Z" fill="#dbdbdb"/>
<path d="M666.7 451.5 L668.7 453.3 L670.3 455.3 L671.5 457.3 L672.3 459.4 L672.6 461.5 L672.4 463.6 L671.8 465.7 L670.7 467.6 L669.2 469.4 L667.3 471 L665 472.5 L662.4 473.8 L659.4 474.8 L656.3 475.5 L653 476 L649.5 476.3 L646 476.2 L642.4 475.9 L639 475.3 L635.6 474.5 L632.4 473.4 L629.4 472.1 L626.7 470.5 L624.3 468.8 L622.3 467 L620.7 465 L619.5 463 L618.7 460.9 L618.4 458.8 L618.6 456.7 L619.2 454.6 L620.3 452.7 L621.8 450.9 L623.7 449.3 L626 447.8 L628.6 446.5 L631.6 445.5 L634.7 444.8 L638 444.3 L641.5 444 L645 444.1 L648.6 444.4 L652 445 L655.4 445.8 L658.6 446.9 L661.6 448.2 L664.3 449.8 L666.7 451.5 Z" fill="#dbdbdb"/>
<path d="M608.3 430.1 L682.7 490.2" fill="none" stroke="#c9c9c9" stroke-width="0.8" stroke-linejoin="round"/>
<path d="M522.1 571.3 L876 426.3 L889.8 437.4 L535.8 582.4 Z" fill="#f1f1f1"/>
<path d="M535.7 582.3 L889.6 437.3" fill="none" stroke="#fff" stroke-width="1.2" stroke-linejoin="round"/>
<path d="M533.5 580.5 L887.4 435.5" fill="none" stroke="#fff" stroke-width="1.2" stroke-linejoin="round"/>
<path d="M531.3 578.7 L885.2 433.7" fill="none" stroke="#fff" stroke-width="1.2" stroke-linejoin="round"/>
<path d="M529 576.9 L882.9 431.9" fill="none" stroke="#fff" stroke-width="1.2" stroke-linejoin="round"/>
<path d="M526.8 575.1 L880.7 430" fill="none" stroke="#fff" stroke-width="1.2" stroke-linejoin="round"/>
<path d="M524.5 573.3 L878.5 428.2" fill="none" stroke="#fff" stroke-width="1.2" stroke-linejoin="round"/>
<path d="M522.3 571.5 L876.2 426.4" fill="none" stroke="#fff" stroke-width="1.2" stroke-linejoin="round"/>
<path d="M505.6 480 L533 502 M536 504.5 L547 513.5" stroke="#fff" stroke-width="1.5" fill="none"/>
<path d="M555.5 522 L564 519 L574 527 L566 531 Z" fill="#fff"/>
</g>
<g id="front">
<path d="M740 506.2 L775 491.2 L795 512.5 L762.5 526.2 Z" fill="#c9c9c9"/>
<path d="M740 506.2 L762.5 526.2" fill="none" stroke="#9a9a9a" stroke-width="0.4" stroke-linejoin="round"/>
<path d="M742.9 505 L765.2 525.1" fill="none" stroke="#9a9a9a" stroke-width="0.4" stroke-linejoin="round"/>
<path d="M745.8 503.8 L767.9 524" fill="none" stroke="#9a9a9a" stroke-width="0.4" stroke-linejoin="round"/>
<path d="M748.8 502.5 L770.6 522.8" fill="none" stroke="#9a9a9a" stroke-width="0.4" stroke-linejoin="round"/>
<path d="M751.7 501.2 L773.3 521.7" fill="none" stroke="#9a9a9a" stroke-width="0.4" stroke-linejoin="round"/>
<path d="M754.6 500 L776 520.5" fill="none" stroke="#9a9a9a" stroke-width="0.4" stroke-linejoin="round"/>
<path d="M757.5 498.8 L778.8 519.4" fill="none" stroke="#9a9a9a" stroke-width="0.4" stroke-linejoin="round"/>
<path d="M760.4 497.5 L781.5 518.2" fill="none" stroke="#9a9a9a" stroke-width="0.4" stroke-linejoin="round"/>
<path d="M763.3 496.2 L784.2 517.1" fill="none" stroke="#9a9a9a" stroke-width="0.4" stroke-linejoin="round"/>
<path d="M766.2 495 L786.9 515.9" fill="none" stroke="#9a9a9a" stroke-width="0.4" stroke-linejoin="round"/>
<path d="M769.2 493.8 L789.6 514.8" fill="none" stroke="#9a9a9a" stroke-width="0.4" stroke-linejoin="round"/>
<path d="M772.1 492.5 L792.3 513.6" fill="none" stroke="#9a9a9a" stroke-width="0.4" stroke-linejoin="round"/>
<path d="M758.2 502.5 L761.5 501.2 L761.5 523.8 L758.2 525 Z" fill="#fff" stroke="#828282" stroke-width="0.4" stroke-linejoin="round"/>
<path d="M531 587.9 L531 605.9 M533.2 586.9 L533.2 604.9 M556.4 577.8 L556.4 595.8 M558.6 576.8 L558.6 594.8 M581.8 567.7 L581.8 585.7 M584 566.7 L584 584.7 M607.1 557.6 L607.1 575.6 M609.4 556.6 L609.4 574.6 M632.5 547.5 L632.5 565.5 M634.8 546.5 L634.8 564.5 M657.9 537.4 L657.9 555.4 M660.1 536.4 L660.1 554.4 M683.2 527.3 L683.2 545.3 M685.5 526.3 L685.5 544.3 M708.6 517.2 L708.6 535.2 M710.9 516.2 L710.9 534.2 M734 507.1 L734 525.1 M736.2 506.1 L736.2 524.1 M759.4 497 L759.4 515 M761.6 496 L761.6 514 M784.8 486.9 L784.8 504.9 M787 485.9 L787 503.9 M810.1 476.8 L810.1 494.8 M812.4 475.8 L812.4 493.8 M835.5 466.7 L835.5 484.7 M837.8 465.7 L837.8 483.7" fill="none" stroke="#828282" stroke-width="0.5" stroke-linejoin="round"/>
<path d="M687.5 528.8 L702.5 536.2 L742.5 518.8 L730 512.5" fill="none" stroke="#828282" stroke-width="0.6" stroke-linejoin="round"/>
<path d="M622.5 573.8 L637.5 567.5 L646.2 572 L646.2 579.5 L630 586.2 L622.5 581.2 Z" fill="#fff" stroke="#828282" stroke-width="0.6" stroke-linejoin="round"/>
<path d="M622.5 573.8 L630 578.8 L646.2 572 M630 578.8 L630 586.2" fill="none" stroke="#828282" stroke-width="0.6" stroke-linejoin="round"/>
<path d="M790 493.8 L806.2 487.5 L812.5 491.2 L812.5 502.5 L796.2 510 L790 505 Z" fill="#fff" stroke="#828282" stroke-width="0.6" stroke-linejoin="round"/>
<path d="M790 493.8 L796.2 498.8 L812.5 491.2 M796.2 498.8 L796.2 510" fill="none" stroke="#828282" stroke-width="0.6" stroke-linejoin="round"/>
<path d="M540 617.5 L620 583 L870 472.5 L942.5 442.5 M702.5 566.2 L897.5 481.2 L942.5 463.8 M702.5 566.2 L707.5 571.2 L802.5 527.5 L800 523.8 M812.5 526.2 L942.5 470 M620 590 L540 625 M835 467.5 L848.8 482.5 L895 463.8 M891.2 450 L902.5 458.8 M831.2 472.5 L872.5 455 M767.5 546.2 L790 565" fill="none" stroke="#828282" stroke-width="0.6" stroke-linejoin="round"/>
<path d="M403.8 478.4 L403.8 497.1 M405.8 479.9 L405.8 497.9 M426.2 496 L426.2 514.8 M428.2 497.5 L428.2 515.5 M447.5 512.7 L447.5 531.5 M449.5 514.2 L449.5 532.2 M476.2 535.3 L476.2 554.1 M478.2 536.8 L478.2 554.8 M497.5 552 L497.5 570.8 M499.5 553.5 L499.5 571.5 M518.8 568.8 L518.8 587.5 M520.8 570.2 L520.8 588.2 M552.5 590 L552.5 600 M555 591.2 L555 600.5 M575 580 L575 587.5 M602.5 568.8 L602.5 577.5 M620 557.5 L620 566.2 M632.5 552.5 L632.5 566.2 M657.5 542.5 L657.5 558.8 M682.5 531.2 L682.5 551.2" fill="none" stroke="#828282" stroke-width="0.5" stroke-linejoin="round"/>
<path d="M411.2 528 L430 526.5 L433.8 530 L415 532.5 Z" fill="#7f7f7f"/>
<path d="M582.5 583.8 L600 580 L611.2 586.2 L592.5 590 Z" fill="#7f7f7f"/>
<path d="M591.2 583 L597.5 581.8 L603.8 587.5 L598 589 Z" fill="#fff"/>
<path d="M412.5 531.2 L417.5 535.5 L438.8 531.2 L433.8 527 M437.5 530 L462.5 545 L477.5 556.2 M415 552.5 L440 556.2 L447.5 566.2 M442.5 553.8 L462.5 547.5 L485 555 L520 586.2 M447.5 566.2 L485 570 L520 600 L555 600 M570 591.2 L587.5 606.2 L652.5 575 L632.5 566.2 M570 591.2 L555 600 L570 600 L587.5 606.2 M623.8 572.5 L640 568.8 L646.2 572.5 L630 577.5 M623.8 572.5 L623.8 580 L630 585 L630 577.5 M630 585 L646.2 580 L646.2 572.5 M535 597.5 L555 593.8 L570 600 M587.5 606.2 L700 556.2" fill="none" stroke="#828282" stroke-width="0.6" stroke-linejoin="round"/>
<path d="M953.8 384.7 C978.8 397.2 988.1 425.3 960.0 434.7 M953.8 389.4 C974.1 400.3 981.9 422.2 959.2 432.3" fill="none" stroke="#828282" stroke-width="0.6"/>
<path d="M967.8 380 L1010 403.4 L1006.9 417.5 L1016.2 425.3 L1030.3 429.2 M1010 403.4 L1024.1 408.9 L1022.5 423 L1030.3 429.2 M989.7 380 L1025.6 407.3 M1006.9 418.3 L828.8 492.5 M1016.2 425.3 L828.8 505 M1025.6 426.9 L989.7 440.2 L895.9 482.3 L844.4 505 M989.7 440.2 L997.5 444.1 M890.5 451.1 L901.4 459.7 M947.5 424.5 L959.2 434.7 L906.9 456.6 M960 434.7 L860 475.3 M953.8 380 L953.8 394.1" fill="none" stroke="#828282" stroke-width="0.6" stroke-linejoin="round"/>
<path d="M953.8 370.6 L953.8 384.7" fill="none" stroke="#828282" stroke-width="0.6" stroke-linejoin="round"/>
</g>
<g id="tower">
</g>
<g id="overlay">
<path d="M450.9 172.8 L457.5 185 L371.3 229.1 L339.4 247.8 L330 253.4 L298.1 276.9 L298.1 284.4 L270 308.8 L255.9 313.4 L255 310.3 L280.3 275 L341.3 235.6 Z M339.4 247.8 L405 286.3 L451.9 312.5 L451.9 322.8 L397.5 293.8 L330 253.4 Z M270 308.8 L361.9 354.7 L451.9 404.4 L451.9 419.4 L345 365.9 L255.9 313.4 Z M443.8 313.8 L470.9 299.1 L482.2 295.9 L480.3 288.4 L496.3 276.3 L518.8 285.1 L592.3 240.1 L593.8 250 L625.6 270.6 L650 256.6 L649.1 289.4 L530.9 357.8 L520.6 359.7 L509.4 361 L498.1 360.6 L486.9 357.8 L477.5 354.1 L443.8 337.2 Z M565.3 213.6 L620 237.3 L607.5 244.1 L560.6 218.3 Z M417.5 300.6 L443.8 313.8 L443.8 337.2 L417.5 324.1 Z M387.5 358.9 L425 376.9 L425 395.6 L375 372.2 Z M423.4 375.3 L453.9 380 L453.9 425.3 L431.2 436.2 L423.4 437.8 Z M375 344.1 L396.9 330 L432.8 330 L460.9 367.5 L431.2 384.7 L423.4 376.9 L410.9 368.3 L411.7 363.6 Z M331.2 397.2 L358.6 373.8 L381.2 385.5 L354.7 408.1 Z M368.8 398.8 L381.2 387.8 L393.8 392.5 L403.1 400.3 L406.2 411.2 L404.7 423.8 L392.2 421.4 L393.8 411.2 L389.1 403.4 L381.2 400.3 Z M806.2 328.8 L815 327.5 L827.5 331.2 L932.2 383.9 L932.2 392.5 L908 403 L887.5 390 L816.2 351.2 L806.2 340 Z M360 350.9 L392.8 333.8 L425.6 352.5 L425.6 383.8 Z M394.4 393.1 L425.6 383.8 L425.6 427.5 L397.5 425 Z" fill="#78b9e1" fill-opacity="0.3" fill-rule="nonzero"/>
<path d="M298.1 278.4 L312.2 275 L315.9 281 L303.8 284.8 Z" fill="#6bb8de"/>
<path d="M423.4 375.3 L453.9 380 L453.9 425.3 L431.2 436.2 L423.4 437.8 Z" fill="#78b9e1" fill-opacity="0.12"/>
<path d="M331.2 397.2 L358.6 373.8 L381.2 385.5 L354.7 408.1 Z" fill="#78b9e1" fill-opacity="0.15"/>
<path d="M331.2 397.2 L337.5 394.1 L358.6 406.6 L354.7 410.5 Z" fill="#5fafd9"/>
<path d="M830 345 L850 340 L932.2 383.9 L932.2 392.5 L910 401 Z" fill="#78b9e1" fill-opacity="0.25"/>
</g>
<g id="top">
<path d="M907.5 398.1 L930 392.5 L930.6 396 L910.6 402.5 Z" fill="#8ecaea"/>
<path d="M880 399.4 L890 393.8 L901.2 400 L907.5 397.5 L923.8 405.6 L915 410.6 L906.2 408.8 L897.5 416.2 L888.1 410.6 Z" fill="#fff" stroke="#b0b0b0" stroke-width="0.4" stroke-linejoin="round"/>
<path d="M886.2 395 L890 393.8 L897.5 403.8 L893.8 406.9 Z" fill="#8d8d8d"/>
<path d="M900 403.8 L907.5 400.6 L911.2 405 L906.2 408.1 Z" fill="#8d8d8d"/>
<path d="M881.2 400.6 L886.2 403.1 M882.5 402.5 L887.5 405 M884.4 404.4 L889.4 406.9 M907.5 408.8 L916.2 410" fill="none" stroke="#8d8d8d" stroke-width="0.5" stroke-linejoin="round"/>
</g>
</svg></body></html>
